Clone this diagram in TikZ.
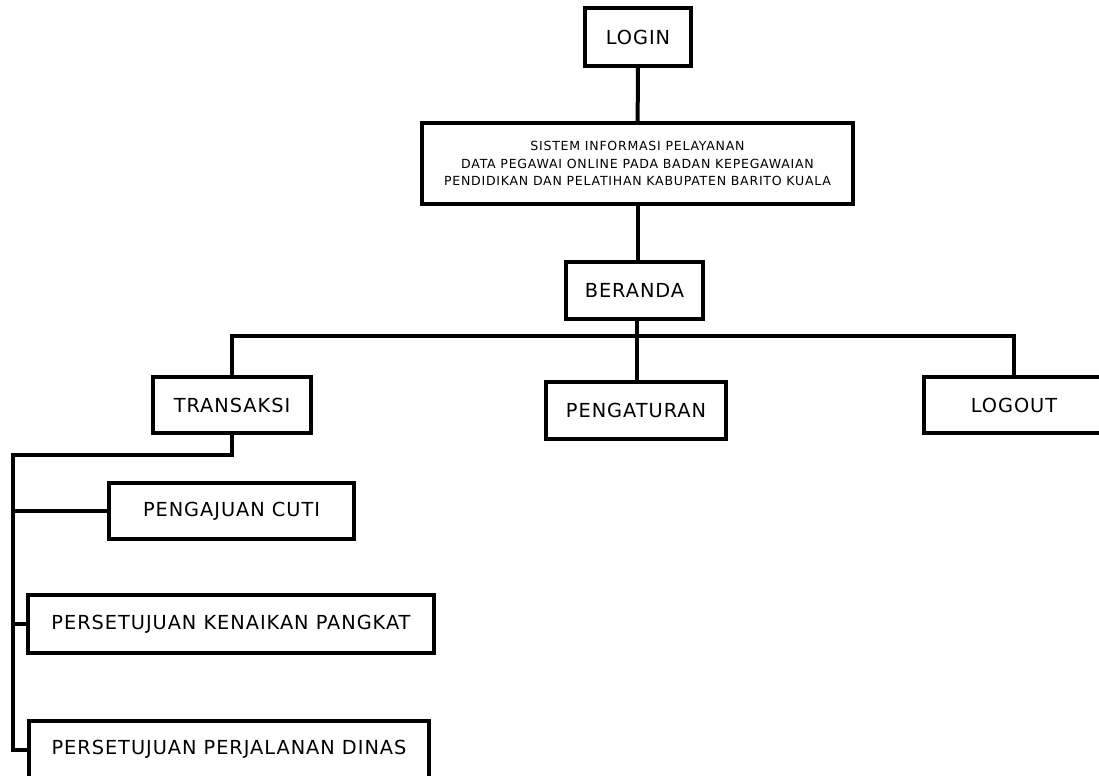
\documentclass[tikz,border=0pt]{standalone}
\usepackage{fontspec}
\setmainfont{DejaVu Sans}
\newfontfamily\lblfont[LetterSpace=5]{DejaVu Sans}
\newfontfamily\smallfont[LetterSpace=6]{DejaVu Sans}
\begin{document}
\begin{tikzpicture}[x=0.75pt,y=-0.75pt,
  box/.style={draw, line width=3pt, inner sep=0pt, align=center,
    font=\lblfont\fontsize{14.5}{17}\selectfont},
  wh/.style 2 args={minimum width=#1*0.75pt, minimum height=#2*0.75pt},
  link/.style={line width=3pt}]
\useasboundingbox (0,0) rectangle (1099,775);
\clip (0,0) rectangle (1099,775);

\node[box, wh={106}{58}] (login) at (638,37) {LOGIN};
\node[box, wh={431}{81}, font=\smallfont\fontsize{9.4}{13.1}\selectfont] (sys) at (637.5,163.5)
  {SISTEM INFORMASI PELAYANAN\\DATA PEGAWAI ONLINE PADA BADAN KEPEGAWAIAN\\PENDIDIKAN DAN PELATIHAN KABUPATEN BARITO KUALA};
\node[box, wh={137}{57}] (beranda) at (634.5,290.5) {BERANDA};
\node[box, wh={158}{56}] (trans) at (232,405) {TRANSAKSI};
\node[box, wh={180}{57}] (peng) at (636,410.5) {PENGATURAN};
\node[box, wh={180}{56}] (logout) at (1014,405) {LOGOUT};
\node[box, wh={245}{56}] (cuti) at (231.5,511) {PENGAJUAN CUTI};
\node[box, wh={406}{58}] (naik) at (231,624) {PERSETUJUAN KENAIKAN PANGKAT};
\node[box, wh={400}{57}] (dinas) at (229,749.5) {PERSETUJUAN PERJALANAN DINAS};

\coordinate (bus) at (637,336);
\coordinate (tl) at (13,455);

\draw[link] (login) -- (sys);
\draw[link] (sys.south) -- (sys.south |- beranda.north);
\draw[link] (beranda.south -| bus) -- (bus);
\draw[link] (trans.north) |- (bus) -| (logout.north);
\draw[link] (bus) -- (bus |- peng.north);
\draw[link] (trans.south) |- (tl) -- (tl |- dinas.west) -- (dinas.west);
\draw[link] (tl |- cuti.west) -- (cuti.west);
\draw[link] (tl |- naik.west) -- (naik.west);
\end{tikzpicture}
\end{document}
